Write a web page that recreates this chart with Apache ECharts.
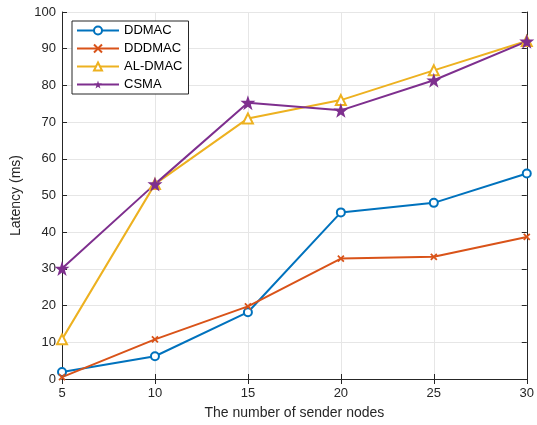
<!DOCTYPE html>
<html><head><meta charset="utf-8">
<script src="https://cdn.jsdelivr.net/npm/echarts@6/dist/echarts.min.js"></script>
<style>html,body{margin:0;padding:0;background:#fff}#c{width:537px;height:425px}</style>
</head><body><div id="c"></div>
<script>
var categories = [5, 10, 15, 20, 25, 30];
var ddmac = [1.9, 6.2, 18.2, 45.4, 48.0, 56.0];
var dddmac = [0.5, 10.8, 19.8, 32.8, 33.3, 38.7];
var aldmac = [10.8, 53.1, 71.0, 76.0, 84.1, 92.1];
var csma = [30.1, 53.1, 75.3, 73.2, 81.4, 92.0];
var seriesNames = ['DDMAC', 'DDDMAC', 'AL-DMAC', 'CSMA'];
var colors = ['#0072BD', '#D95319', '#EDB120', '#7E2F8E'];

function pairs(v) { return categories.map(function (x, i) { return [x, v[i]]; }); }
var star = 'path://M50,0 L61.8,35.2 L98.9,35.5 L69.1,57.6 L80.2,93 L50,71.5 L19.8,93 L30.9,57.6 L1.1,35.5 L38.2,35.2 Z';
var cross = 'path://M0,0 L10,10 M10,0 L0,10';

var font = 'Liberation Sans, Arial, sans-serif';
var chart = echarts.init(document.getElementById('c'));
var axisCommon = {
  type: 'value',
  axisLine: { show: true, lineStyle: { color: '#262626', width: 1 } },
  axisTick: { show: true, inside: true, length: 5, lineStyle: { color: '#262626' } },
  splitLine: { show: false }
};
chart.setOption({
  animation: false,
  color: colors,
  grid: { left: 62, right: 8, top: 12, bottom: 44, containLabel: false },
  legend: {
    left: 72, top: 21, orient: 'vertical',
    data: seriesNames,
    itemWidth: 42, itemHeight: 10, itemGap: 5,
    borderColor: '#262626', borderWidth: 1, padding: [3, 6, 3, 4],
    backgroundColor: '#fff',
    textStyle: { fontFamily: font, fontSize: 13, color: '#000' }
  },
  xAxis: [
    Object.assign({}, axisCommon, {
      min: 5, max: 30, interval: 5, position: 'bottom',
      name: 'The number of sender nodes', nameLocation: 'middle', nameGap: 27,
      nameTextStyle: { fontFamily: font, fontSize: 14, color: '#262626' },
      axisLabel: { fontFamily: font, fontSize: 13, color: '#262626', margin: 8 },
      splitLine: { show: true, lineStyle: { color: '#e6e6e6', width: 1 } }
    }),
    Object.assign({}, axisCommon, {
      min: 5, max: 30, interval: 5, position: 'top', axisLabel: { show: false }
    })
  ],
  yAxis: [
    Object.assign({}, axisCommon, {
      min: 0, max: 100, interval: 10, position: 'left',
      name: 'Latency (ms)', nameLocation: 'middle', nameGap: 36,
      nameTextStyle: { fontFamily: font, fontSize: 14, color: '#262626' },
      axisLabel: { fontFamily: font, fontSize: 13, color: '#262626', margin: 6 },
      splitLine: { show: true, lineStyle: { color: '#e6e6e6', width: 1 } }
    }),
    Object.assign({}, axisCommon, {
      min: 0, max: 100, interval: 10, position: 'right', axisLabel: { show: false }
    })
  ],
  series: [
    { name: 'DDMAC', type: 'line', data: pairs(ddmac), symbol: 'emptyCircle', symbolSize: 8,
      lineStyle: { width: 2 }, itemStyle: { color: colors[0], borderWidth: 1.8 } },
    { name: 'DDDMAC', type: 'line', data: pairs(dddmac), symbol: cross, symbolSize: 6,
      lineStyle: { width: 2 }, itemStyle: { color: colors[1], borderColor: colors[1], borderWidth: 1.8 } },
    { name: 'AL-DMAC', type: 'line', data: pairs(aldmac), symbol: 'emptyTriangle', symbolSize: 10,
      lineStyle: { width: 2 }, itemStyle: { color: colors[2], borderWidth: 1.8 } },
    { name: 'CSMA', type: 'line', data: pairs(csma), symbol: star, symbolSize: 15,
      lineStyle: { width: 2 }, itemStyle: { color: colors[3], borderWidth: 0 } }
  ]
});
</script></body></html>
